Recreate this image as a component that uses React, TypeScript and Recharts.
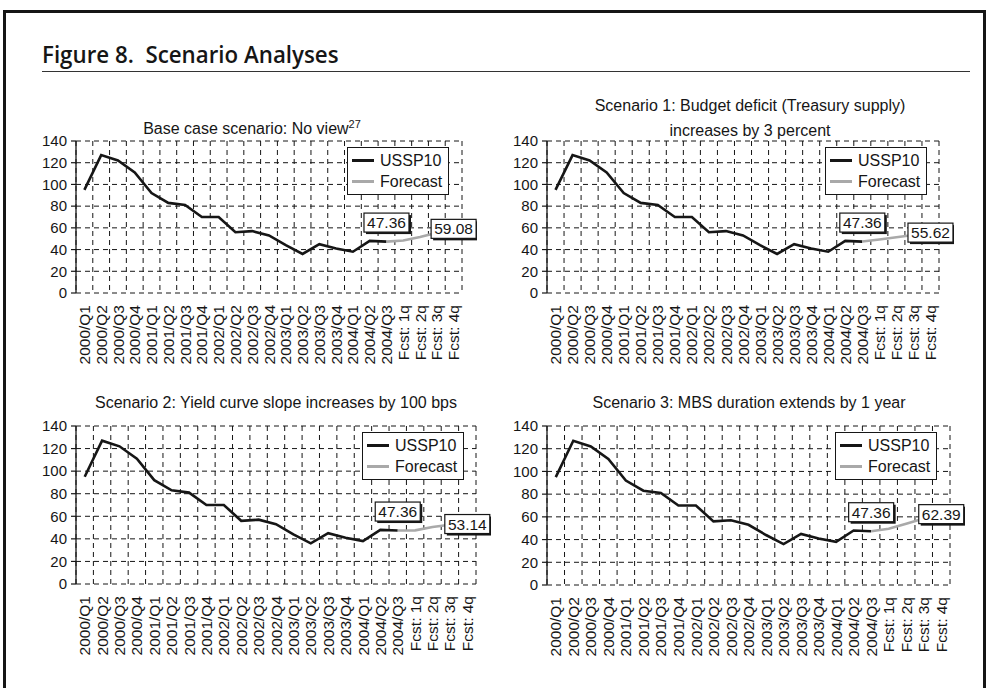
import {
  LineChart,
  Line,
  XAxis,
  YAxis,
  CartesianGrid,
  Legend,
  LabelList,
} from 'recharts';

const quarters = [
  '2000/Q1', '2000/Q2', '2000/Q3', '2000/Q4',
  '2001/Q1', '2001/Q2', '2001/Q3', '2001/Q4',
  '2002/Q1', '2002/Q2', '2002/Q3', '2002/Q4',
  '2003/Q1', '2003/Q2', '2003/Q3', '2003/Q4',
  '2004/Q1', '2004/Q2', '2004/Q3',
  'Fcst: 1q', 'Fcst: 2q', 'Fcst: 3q', 'Fcst: 4q',
];

// USSP10 history, 2000/Q1 .. 2004/Q3
const ussp10 = [95, 127, 122, 111, 92, 83, 81, 70, 70, 56, 57, 53, 44, 36, 45, 41, 38, 48, 47.36];

// forecast paths, 2004/Q3 .. Fcst: 4q
const baseCaseFcst = [47.36, 48.3, 51.5, 55.5, 59.08];
const budgetFcst = [47.36, 49.2, 51.3, 53.5, 55.62];
const yieldSlopeFcst = [47.36, 47.5, 50.5, 52.5, 53.14];
const mbsFcst = [47.36, 49.5, 54, 58.5, 62.39];

const seriesNames = ['USSP10', 'Forecast'];
const yTicks = [0, 20, 40, 60, 80, 100, 120, 140];
const centerTicks = quarters.map((_, i) => i + 0.5);
const boundaryTicks = [...quarters.map((_, i) => i), quarters.length];

const FONT = "'Liberation Sans', Arial, Helvetica, sans-serif";
const INK = '#161616';
const GREY = '#a9a9a9';

const buildRows = (fcst: number[]) => {
  const start = ussp10.length - 1;
  return quarters.map((q, i) => ({
    x: i + 0.5,
    label: q,
    hist: i < ussp10.length ? ussp10[i] : null,
    fcst: i >= start ? fcst[i - start] : null,
  }));
};

const QuarterTick = (props: any) => {
  const { x, y, payload } = props;
  const label = quarters[Math.floor(payload.value)];
  return (
    <text
      x={x}
      y={y}
      transform={`rotate(-90 ${x} ${y})`}
      textAnchor='end'
      dy='0.36em'
      fontSize={15.5}
      fontFamily={FONT}
      fill={INK}
    >
      {label}
    </text>
  );
};

const NoTick = () => <g />;

const ValueBox = ({ x, y, value, shiftY }: any) => {
  const w = 45;
  const h = 19;
  const cx = x;
  const cy = y + shiftY;
  return (
    <g>
      <rect x={cx - w / 2 + 2} y={cy - h / 2 + 2} width={w} height={h} fill={INK} />
      <rect
        x={cx - w / 2}
        y={cy - h / 2}
        width={w}
        height={h}
        fill='#fff'
        stroke={INK}
        strokeWidth={1.2}
      />
      <text
        x={cx}
        y={cy}
        textAnchor='middle'
        dominantBaseline='central'
        fontSize={15.5}
        fontFamily={FONT}
        fill={INK}
      >
        {Number(value).toFixed(2)}
      </text>
    </g>
  );
};

const LegendBox = ({ payload }: any) => {
  const items = [...(payload || [])].sort(
    (a: any, b: any) => seriesNames.indexOf(a.value) - seriesNames.indexOf(b.value)
  );
  return (
    <div
      style={{
        border: `1.5px solid ${INK}`,
        background: '#fff',
        padding: '2px 6px 2px 4px',
        fontFamily: FONT,
        fontSize: 16,
        color: INK,
        lineHeight: '21px',
        whiteSpace: 'nowrap',
      }}
    >
      {items.map((item: any) => (
        <div key={item.value} style={{ display: 'flex', alignItems: 'center' }}>
          <span
            style={{
              display: 'inline-block',
              width: 22,
              borderTop: `3px solid ${item.color}`,
              marginRight: 6,
            }}
          />
          {item.value}
        </div>
      ))}
    </div>
  );
};

const PAD_L = 55;
const PAD_T = 12;
const PAD_R = 15;
const PAD_B = 84;

type PanelProps = {
  fcst: number[];
  plotX: number;
  plotY: number;
  plotW: number;
  plotH: number;
  legendX: number;
  legendY: number;
};

const Panel = ({ fcst, plotX, plotY, plotW, plotH, legendX, legendY }: PanelProps) => {
  const rows = buildRows(fcst);
  const left = plotX - PAD_L;
  const top = plotY - PAD_T;
  const lastHist = ussp10.length - 1;
  const lastFcst = quarters.length - 1;
  return (
    <div style={{ position: 'absolute', left, top }}>
      <LineChart
        width={plotW + PAD_L + PAD_R}
        height={plotH + PAD_T + PAD_B}
        data={rows}
        margin={{ top: PAD_T, right: PAD_R, left: 0, bottom: PAD_B - 78 }}
      >
        <XAxis
          xAxisId='grid'
          type='number'
          dataKey='x'
          domain={[0, quarters.length]}
          ticks={boundaryTicks}
          interval={0}
          tick={<NoTick />}
          tickSize={5}
          height={0}
          axisLine={{ stroke: INK, strokeWidth: 1.3 }}
          tickLine={{ stroke: INK, strokeWidth: 1.2 }}
        />
        <XAxis
          xAxisId='lab'
          type='number'
          dataKey='x'
          domain={[0, quarters.length]}
          ticks={centerTicks}
          interval={0}
          tick={<QuarterTick />}
          tickSize={0}
          tickMargin={12}
          tickLine={false}
          axisLine={false}
          height={78}
        />
        <YAxis
          yAxisId='v'
          domain={[0, 140]}
          ticks={yTicks}
          interval={0}
          width={PAD_L}
          tickSize={5}
          tickMargin={4}
          axisLine={{ stroke: INK, strokeWidth: 1.3 }}
          tickLine={{ stroke: INK, strokeWidth: 1.2 }}
          tick={{ fill: INK, fontSize: 15, fontFamily: FONT }}
        />
        <CartesianGrid
          xAxisId='grid'
          yAxisId='v'
          stroke={INK}
          strokeWidth={1}
          strokeDasharray='5 4'
        />
        <Line
          xAxisId='lab'
          yAxisId='v'
          dataKey='hist'
          name='USSP10'
          type='linear'
          stroke={INK}
          strokeWidth={2.6}
          dot={false}
          activeDot={false}
          isAnimationActive={false}
        >
          <LabelList
            dataKey='hist'
            content={(p: any) =>
              p.index === lastHist ? <ValueBox {...p} shiftY={-19} /> : null
            }
          />
        </Line>
        <Line
          xAxisId='lab'
          yAxisId='v'
          dataKey='fcst'
          name='Forecast'
          type='linear'
          stroke={GREY}
          strokeWidth={2.6}
          dot={false}
          activeDot={false}
          isAnimationActive={false}
        >
          <LabelList
            dataKey='fcst'
            content={(p: any) =>
              p.index === lastFcst ? <ValueBox {...p} shiftY={0} /> : null
            }
          />
        </Line>
        <Legend
          layout='horizontal'
          verticalAlign='middle'
          align='center'
          content={<LegendBox />}
          wrapperStyle={{
            left: legendX - left,
            top: legendY - top,
            width: 'auto',
            height: 'auto',
          }}
        />
      </LineChart>
    </div>
  );
};

const PanelTitle = ({ cx, cy, lines }: { cx: number; cy: number; lines: any[] }) => (
  <div
    style={{
      position: 'absolute',
      left: cx - 260,
      width: 520,
      top: cy - 12.5,
      textAlign: 'center',
      fontFamily: FONT,
      fontSize: 16,
      lineHeight: '25px',
      color: INK,
    }}
  >
    {lines.map((l, i) => (
      <div key={i}>{l}</div>
    ))}
  </div>
);

const App = () => (
  <div
    style={{
      position: 'absolute',
      left: 0,
      top: 0,
      width: 989,
      height: 688,
      overflow: 'hidden',
      background: '#fff',
    }}
  >
    <div
      style={{
        position: 'absolute',
        left: 3,
        top: 10,
        width: 983,
        height: 700,
        border: `3px solid ${INK}`,
        boxSizing: 'border-box',
      }}
    />
    <div
      style={{
        position: 'absolute',
        left: 42,
        top: 43,
        fontFamily: "'Open Sans', 'DejaVu Sans Condensed', sans-serif",
        fontWeight: 600,
        fontSize: 23,
        lineHeight: '23px',
        color: INK,
        whiteSpace: 'pre',
        transform: 'scaleX(0.97)',
        transformOrigin: 'left top',
      }}
    >
      Figure 8.  Scenario Analyses
    </div>
    <div
      style={{
        position: 'absolute',
        left: 42,
        top: 71,
        width: 928,
        height: 0,
        borderTop: '1.3px solid #333',
      }}
    />

    <PanelTitle
      cx={252}
      cy={128}
      lines={[
        <span>
          Base case scenario: No view
          <span style={{ fontSize: 11, position: 'relative', top: -6 }}>27</span>
        </span>,
      ]}
    />
    <PanelTitle
      cx={750}
      cy={105}
      lines={['Scenario 1: Budget deficit (Treasury supply)', 'increases by 3 percent']}
    />
    <PanelTitle cx={276} cy={402} lines={['Scenario 2: Yield curve slope increases by 100 bps']} />
    <PanelTitle cx={749} cy={402} lines={['Scenario 3: MBS duration extends by 1 year']} />

    <Panel fcst={baseCaseFcst} plotX={76} plotY={141} plotW={386} plotH={152} legendX={347} legendY={147} />
    <Panel fcst={budgetFcst} plotX={547} plotY={141} plotW={392} plotH={152} legendX={825} legendY={147} />
    <Panel fcst={yieldSlopeFcst} plotX={76} plotY={426} plotW={400} plotH={158} legendX={362} legendY={432} />
    <Panel fcst={mbsFcst} plotX={547} plotY={426} plotW={403} plotH={159} legendX={835} legendY={432} />
  </div>
);

export default App;
